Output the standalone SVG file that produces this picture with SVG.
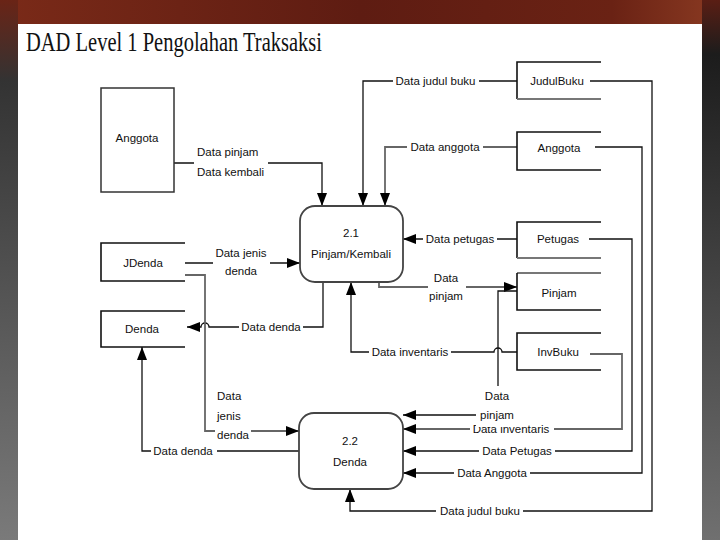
<svg xmlns="http://www.w3.org/2000/svg" width="720" height="540" viewBox="0 0 720 540">
<defs>
<linearGradient id="gTop" x1="0" y1="0" x2="1" y2="0">
<stop offset="0" stop-color="#7a2a18"/><stop offset="0.5" stop-color="#5e1c12"/><stop offset="0.85" stop-color="#6a2214"/><stop offset="1" stop-color="#8a3a22"/>
</linearGradient>
<linearGradient id="gLeft" x1="0" y1="0" x2="0" y2="1">
<stop offset="0" stop-color="#6a2416"/><stop offset="0.15" stop-color="#333"/><stop offset="1" stop-color="#7a7a7a"/>
</linearGradient>
<linearGradient id="gRight" x1="0" y1="0" x2="0" y2="1">
<stop offset="0" stop-color="#5a1e14"/><stop offset="0.1" stop-color="#1c1c1c"/><stop offset="1" stop-color="#707070"/>
</linearGradient>
<marker id="ah" markerUnits="userSpaceOnUse" markerWidth="13" markerHeight="11" refX="13" refY="5" orient="auto">
<path d="M0,0 L13,5 L0,10 z" fill="#000"/>
</marker>
<style>
text{font-family:"Liberation Sans",Arial,sans-serif;font-size:11.5px;fill:#111}
.c{text-anchor:middle}
.title{font-family:"Liberation Serif","Times New Roman",serif;font-size:28px;fill:#111}
.ln{fill:none;stroke:#111;stroke-width:1.3}
.lg{fill:none;stroke:#666;stroke-width:1.8}
.arr{marker-end:url(#ah)}
.bg{fill:#fff}
.proc{fill:#fff;stroke:#444;stroke-width:1.8}
.ent{fill:#fff;stroke:#333;stroke-width:1.5}
.st{fill:none;stroke:#111;stroke-width:1.6}
.stg{fill:none;stroke:#777;stroke-width:2}
</style>
</defs>
<rect x="0" y="0" width="720" height="540" fill="#2a2a2a"/>
<rect x="0" y="0" width="720" height="24" fill="url(#gTop)"/>
<rect x="0" y="0" width="18" height="540" fill="url(#gLeft)"/>
<rect x="702" y="0" width="18" height="540" fill="url(#gRight)"/>
<rect x="18" y="24" width="684" height="516" fill="#fff"/>
<text class="title" x="26" y="51" textLength="296" lengthAdjust="spacingAndGlyphs">DAD Level 1 Pengolahan Traksaksi</text>

<g id="connectors">
<path class="ln arr" d="M174,163 H322 V206"/>
<path class="ln arr" d="M517,81 H363 V206"/>
<path class="lg arr" d="M517,147 H385 V206"/>
<path class="ln arr" d="M517,239 H403"/>
<path class="ln arr" d="M185,263 H300"/>
<path class="lg arr" d="M379,282 V287 H517"/>
<path class="ln arr" d="M323,282 V327 H209 A4,4 0 0 0 201,327 H187"/>
<path class="ln arr" d="M517,352 H502 A4,4 0 0 0 494,352 H351 V282"/>
<path class="lg arr" d="M185,275 H205 V431 H299"/>
<path class="ln arr" d="M299,451 H142 V347"/>
<path class="ln arr" d="M517,291 H498 V415 H403"/>
<path class="lg arr" d="M590,354 H622 V429 H403"/>
<path class="ln arr" d="M589,239 H632 V451 H403"/>
<path class="ln arr" d="M595,147 H642 V473 H403"/>
<path class="ln arr" d="M590,81 H652 V511 H350 V489"/>

<rect class="bg" x="194" y="145" width="74" height="36"/>
<text x="197" y="156">Data pinjam</text>
<text x="197" y="176">Data kembali</text>
<rect class="bg" x="393" y="74" width="86" height="14"/>
<text class="c" x="435.5" y="85">Data judul buku</text>
<rect class="bg" x="407" y="140" width="76" height="14"/>
<text class="c" x="445" y="151">Data anggota</text>
<rect class="bg" x="423" y="232" width="74" height="14"/>
<text class="c" x="460" y="243">Data petugas</text>
<rect class="bg" x="213" y="246" width="57" height="32"/>
<text class="c" x="241" y="257">Data jenis</text>
<text class="c" x="241" y="275">denda</text>
<rect class="bg" x="428" y="270" width="38" height="33"/>
<text class="c" x="446" y="282">Data</text>
<text class="c" x="446" y="300">pinjam</text>
<rect class="bg" x="239" y="320" width="64" height="14"/>
<text class="c" x="271" y="331">Data denda</text>
<rect class="bg" x="369" y="345" width="82" height="14"/>
<text class="c" x="410" y="356">Data inventaris</text>
<rect class="bg" x="215" y="424" width="36" height="14"/>
<text x="217" y="400">Data</text>
<text x="217" y="420">jenis</text>
<text x="217" y="439">denda</text>
<rect class="bg" x="151" y="444" width="66" height="14"/>
<text class="c" x="183" y="455">Data denda</text>
<rect class="bg" x="470" y="422" width="84" height="14"/>
<text class="c" x="511" y="433">Data inventaris</text>
<rect class="bg" x="476" y="386" width="40" height="41"/>
<text class="c" x="497" y="400">Data</text>
<text class="c" x="497" y="419">pinjam</text>
<rect class="bg" x="479" y="444" width="76" height="14"/>
<text class="c" x="517" y="455">Data Petugas</text>
<rect class="bg" x="454" y="466" width="76" height="14"/>
<text class="c" x="492" y="477">Data Anggota</text>
<rect class="bg" x="436" y="504" width="87" height="14"/>
<text class="c" x="480" y="515">Data judul buku</text>
</g>

<g id="ent-anggota">
<rect class="ent" x="101" y="88" width="73" height="104"/>
<text class="c" x="137" y="142">Anggota</text>
</g>

<g id="proc-2-1">
<rect class="proc" x="300" y="206" width="103" height="76" rx="15"/>
<text class="c" x="351" y="237">2.1</text>
<text class="c" x="351" y="258">Pinjam/Kembali</text>
</g>

<g id="proc-2-2">
<rect class="proc" x="299" y="413" width="104" height="76" rx="15"/>
<text class="c" x="350" y="445">2.2</text>
<text class="c" x="350" y="466">Denda</text>
</g>

<g id="ds-judulbuku">
<path class="st" d="M601,62 H517 V99"/>
<path class="stg" d="M517,99 H601"/>
<text class="c" x="557" y="85">JudulBuku</text>
</g>

<g id="ds-anggota">
<path class="st" d="M601,132 H517 V170 H601"/>
<text class="c" x="559" y="152">Anggota</text>
</g>

<g id="ds-petugas">
<path class="st" d="M601,222 H517 V258"/>
<path class="stg" d="M517,258 H601"/>
<text class="c" x="558" y="243">Petugas</text>
</g>

<g id="ds-pinjam">
<path class="stg" d="M601,273 H517"/>
<path class="st" d="M517,273 V310 H601"/>
<text class="c" x="559" y="297">Pinjam</text>
</g>

<g id="ds-invbuku">
<path class="st" d="M601,333 H517 V370 H601"/>
<text class="c" x="558" y="356">InvBuku</text>
</g>

<g id="ds-jdenda">
<path class="st" d="M185,243 H101 V281 H185"/>
<text class="c" x="143" y="267">JDenda</text>
</g>

<g id="ds-denda">
<path class="st" d="M185,311 H101 V347 H185"/>
<text class="c" x="142" y="333">Denda</text>
</g>
</svg>
